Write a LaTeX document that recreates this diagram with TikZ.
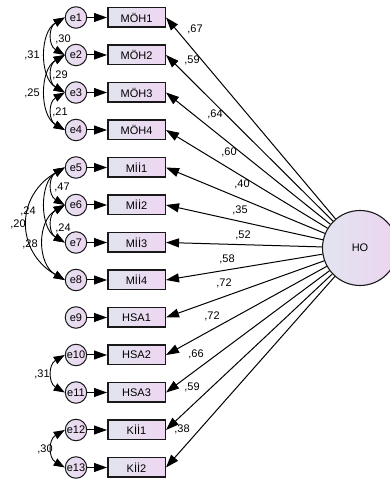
\documentclass[tikz,border=0pt]{standalone}
\usepackage{fontspec}
\setmainfont{Liberation Sans}
\usetikzlibrary{arrows.meta}
\definecolor{boxL}{RGB}{226,228,238}
\definecolor{boxR}{RGB}{238,214,242}
\definecolor{errL}{RGB}{228,226,240}
\definecolor{errR}{RGB}{238,212,240}
\definecolor{latL}{RGB}{226,228,240}
\definecolor{latR}{RGB}{236,212,240}
\begin{document}
\begin{tikzpicture}[x=1pt,y=1pt,
  font=\fontsize{11}{13}\selectfont,
  obs/.style={draw=black!90, line width=1.5pt, minimum width=57.5pt, minimum height=19.5pt, inner sep=0pt, left color=boxL, right color=boxR},
  err/.style={circle, draw=black!90, line width=1pt, minimum size=21.5pt, inner sep=0pt, left color=errL, right color=errR},
  lat/.style={circle, draw=black!90, line width=1.1pt, minimum size=75pt, inner sep=0pt, left color=latL, right color=latR},
  reg/.style={-{Triangle[length=13pt,width=9pt]}, line width=1pt},
  cov/.style={{Triangle[length=11pt,width=8pt]}-{Triangle[length=11pt,width=8pt]}, line width=0.9pt},
  lab/.style={inner sep=0pt}
]
\useasboundingbox (0,0) rectangle (390,482);
\node[lat] (HO) at (360,234) {HO};
\foreach \i/\t in {1/MÖH1,2/MÖH2,3/MÖH3,4/MÖH4,5/Mİİ1,6/Mİİ2,7/Mİİ3,8/Mİİ4,9/HSA1,10/HSA2,11/HSA3,12/Kİİ1,13/Kİİ2}{
  \pgfmathsetmacro\yy{464.5-37.5*(\i-1)}
  \node[err] (e\i) at (76,\yy) {e\i};
  \node[obs] (b\i) at (136.5,\yy) {\t};
  \draw[reg] (e\i) -- (b\i);
  \draw[reg] (HO) -- (b\i.east);
}
% regression weights
\node[lab] (w1) at (195,453) {,67};
\node[lab] (w2) at (192,422) {,59};
\node[lab] (w3) at (215,368) {,64};
\node[lab] (w4) at (229,330) {,60};
\node[lab] (w5) at (242,298) {,40};
\node[lab] (w6) at (240,272) {,35};
\node[lab] (w7) at (243,247) {,52};
\node[lab] (w8) at (227,223) {,58};
\node[lab] (w9) at (224,199) {,72};
\node[lab] (w10) at (212,166) {,72};
\node[lab] (w11) at (196,128) {,66};
\node[lab] (w12) at (192,95) {,59};
\node[lab] (w13) at (182,53) {,38};
% covariances MÖH
\draw[cov] (e1.west) to[out=210,in=150,looseness=1.3] (e2.west);
\draw[cov] (e2.west) to[out=210,in=150,looseness=1.3] (e3.west);
\draw[cov] (e3.west) to[out=210,in=150,looseness=1.3] (e4.west);
\draw[cov] (e1.west) to[out=210,in=150,looseness=1] (e3.west);
\draw[cov] (e2.west) to[out=210,in=150,looseness=1] (e4.west);
\node[lab] (c1) at (63,443) {,30};
\node[lab] (c2) at (60,407) {,29};
\node[lab] (c3) at (60,370) {,21};
\node[lab] (c4) at (32,427) {,31};
\node[lab] (c5) at (32,389) {,25};
% covariances Mİİ
\draw[cov] (e5.west) to[out=210,in=150,looseness=1.3] (e6.west);
\draw[cov] (e6.west) to[out=210,in=150,looseness=1.3] (e7.west);
\draw[cov] (e5.west) to[out=210,in=150,looseness=1] (e7.west);
\draw[cov] (e6.west) to[out=210,in=150,looseness=1.1] (e8.west);
\draw[cov] (e5.west) to[out=210,in=150,looseness=1.3] (e8.west);
\node[lab] (c6) at (62,295) {,47};
\node[lab] (c7) at (28,271) {,24};
\node[lab] (c8) at (18,258) {,20};
\node[lab] (c9) at (63,254) {,24};
\node[lab] (c10) at (30,238) {,28};
% covariances HSA, Kİİ
\draw[cov] (e10.west) to[out=210,in=150,looseness=1.3] (e11.west);
\draw[cov] (e12.west) to[out=210,in=150,looseness=1.3] (e13.west);
\node[lab] (c11) at (42,108) {,31};
\node[lab] (c12) at (45,33) {,30};
\end{tikzpicture}
\end{document}
